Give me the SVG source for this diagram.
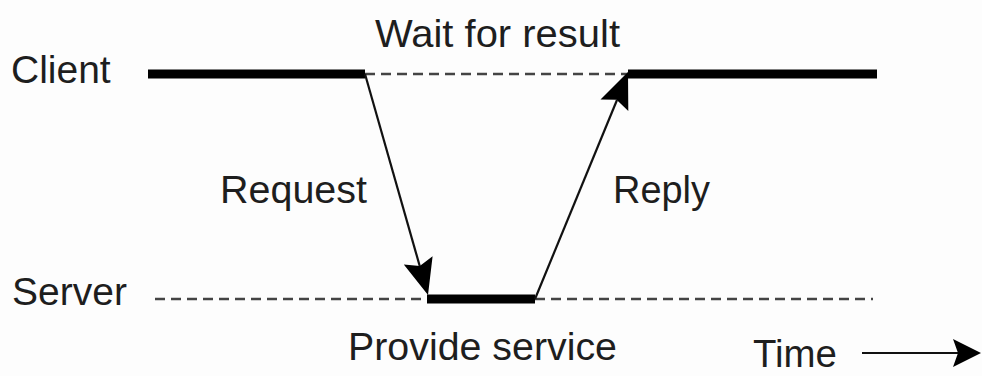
<svg xmlns="http://www.w3.org/2000/svg" width="982" height="376" viewBox="0 0 982 376">
  <style>
    text { font-family: "Liberation Sans", Arial, sans-serif; font-size: 39px; fill: #1e1e1e; }
    .thick { stroke: #000; stroke-width: 9; fill: none; }
    .dash { stroke: #444; stroke-width: 2.5; stroke-dasharray: 10 6; fill: none; }
    .arrow { stroke: #111; stroke-width: 2.2; fill: none; }
    .head { fill: #000; stroke: none; }
  </style>
  <rect width="982" height="376" fill="#fdfdfd"/>

  <g id="client">
    <text x="11" y="83">Client</text>
    <line class="thick" x1="148" y1="74" x2="365" y2="74"/>
    <line class="dash" x1="365" y1="74" x2="628" y2="74"/>
    <line class="thick" x1="628" y1="74" x2="877" y2="74"/>
  </g>

  <g id="server">
    <text x="12" y="305">Server</text>
    <line class="dash" x1="155" y1="299" x2="427" y2="299"/>
    <line class="thick" x1="427" y1="299" x2="535" y2="299"/>
    <line class="dash" x1="535" y1="299" x2="873" y2="299"/>
  </g>

  <g id="labels">
    <text x="375" y="47" textLength="245" lengthAdjust="spacingAndGlyphs">Wait for result</text>
    <text x="220" y="203" textLength="147" lengthAdjust="spacingAndGlyphs">Request</text>
    <text x="613" y="203" textLength="97" lengthAdjust="spacingAndGlyphs">Reply</text>
    <text x="348" y="360" textLength="269" lengthAdjust="spacingAndGlyphs">Provide service</text>
    <text x="753" y="367" textLength="84" lengthAdjust="spacingAndGlyphs">Time</text>
  </g>

  <g id="connectors">
    <line class="arrow" x1="365" y1="74" x2="420" y2="267"/>
    <polygon class="head" points="428,295 432.6,256.3 419.8,266.1 403.8,264.5"/>
    <line class="arrow" x1="535" y1="299" x2="617" y2="100"/>
    <polygon class="head" points="628,72 628.3,111 616.6,99.8 600.5,99.6"/>
    <line class="arrow" x1="862" y1="353" x2="958" y2="353"/>
    <polygon class="head" points="981,353 953,339 958,353 953,367"/>
  </g>
</svg>
